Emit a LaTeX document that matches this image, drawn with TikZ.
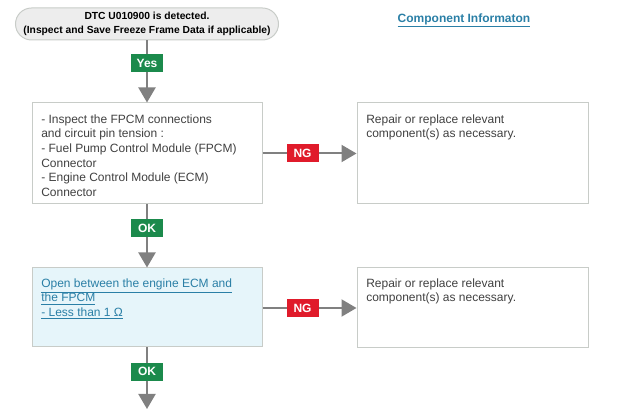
\documentclass[tikz,border=0pt]{standalone}
\usepackage{fontspec}
\setmainfont{Liberation Sans}
\usetikzlibrary{arrows.meta}
\definecolor{txtc}{HTML}{404040}
\definecolor{okc}{HTML}{1B8A4C}
\definecolor{ngc}{HTML}{E01B2B}
\definecolor{arrc}{HTML}{808080}
\definecolor{boxc}{HTML}{C8CCC8}
\definecolor{linkc}{HTML}{2A7FA6}
\definecolor{bluefill}{HTML}{E6F5FA}
\begin{document}
\begin{tikzpicture}[x=0.75pt,y=-0.75pt,
  flow/.style={draw=arrc,line width=1.5pt,-{Triangle[width=12.75pt,length=11.25pt]}},
  startbox/.style={draw=boxc,fill=black!7,rounded corners=12pt,line width=0.75pt,
    minimum width=197.25pt,minimum height=24pt,align=center,inner sep=0pt,
    font=\fontsize{7.7}{11}\selectfont\bfseries,text=black},
  stepbox/.style={draw=boxc,line width=0.75pt,inner sep=0pt},
  boxtext/.style={anchor=north west,inner sep=0pt,align=left,text=txtc,
    font=\fontsize{9}{10.9}\selectfont},
  tag/.style={inner sep=0pt,minimum width=24pt,minimum height=13.5pt,text=white,
    font=\fontsize{9}{10}\selectfont\bfseries},
  oktag/.style={tag,fill=okc},
  ngtag/.style={tag,fill=ngc}]
\useasboundingbox (0,0) rectangle (622,409);

% nodes
\node[startbox] (start) at (147,24) {DTC U010900 is detected.\\(Inspect and Save Freeze Frame Data if applicable)};
\node[text=linkc,font=\fontsize{9}{10}\selectfont\bfseries] (comp) at (464,20.5) {\underline{Component Informaton}};

\node[stepbox,minimum width=172.5pt,minimum height=75.75pt] (b1) at (147,153.5) {};
\node[boxtext] (t1) at (41,114.5) {- Inspect the FPCM connections\\and circuit pin tension :\\- Fuel Pump Control Module (FPCM)\\Connector\\- Engine Control Module (ECM)\\Connector};

\node[stepbox,minimum width=173.25pt,minimum height=75.75pt] (r1) at (472.5,153.5) {};
\node[boxtext] (rt1) at (366,114.5) {Repair or replace relevant\\component(s) as necessary.};

\node[stepbox,fill=bluefill,minimum width=172.5pt,minimum height=59.25pt] (b2) at (147,307.5) {};
\node[boxtext,text=linkc] (t2) at (41,278.5) {\underline{Open between the engine ECM and}\\\underline{the FPCM}\\\underline{- Less than 1 Ω}};

\node[stepbox,minimum width=173.25pt,minimum height=60pt] (r2) at (472.5,308) {};
\node[boxtext] (rt2) at (366,278.5) {Repair or replace relevant\\component(s) as necessary.};

\coordinate (end) at (147,409);

% connectors
\draw[flow] (start.south) -- (b1.north) node[oktag,pos=0.365] (yes) {Yes};
\draw[flow] (b1.east) -- (r1.west) node[ngtag,pos=0.426] (ng1) {NG};
\draw[flow] (b1.south) -- (b2.north) node[oktag,pos=0.375] (ok1) {OK};
\draw[flow] (b2.east |- r2.west) -- (r2.west) node[ngtag,pos=0.426] (ng2) {NG};
\draw[flow] (b2.south) -- (end) node[oktag,pos=0.395] (ok2) {OK};
\end{tikzpicture}
\end{document}
